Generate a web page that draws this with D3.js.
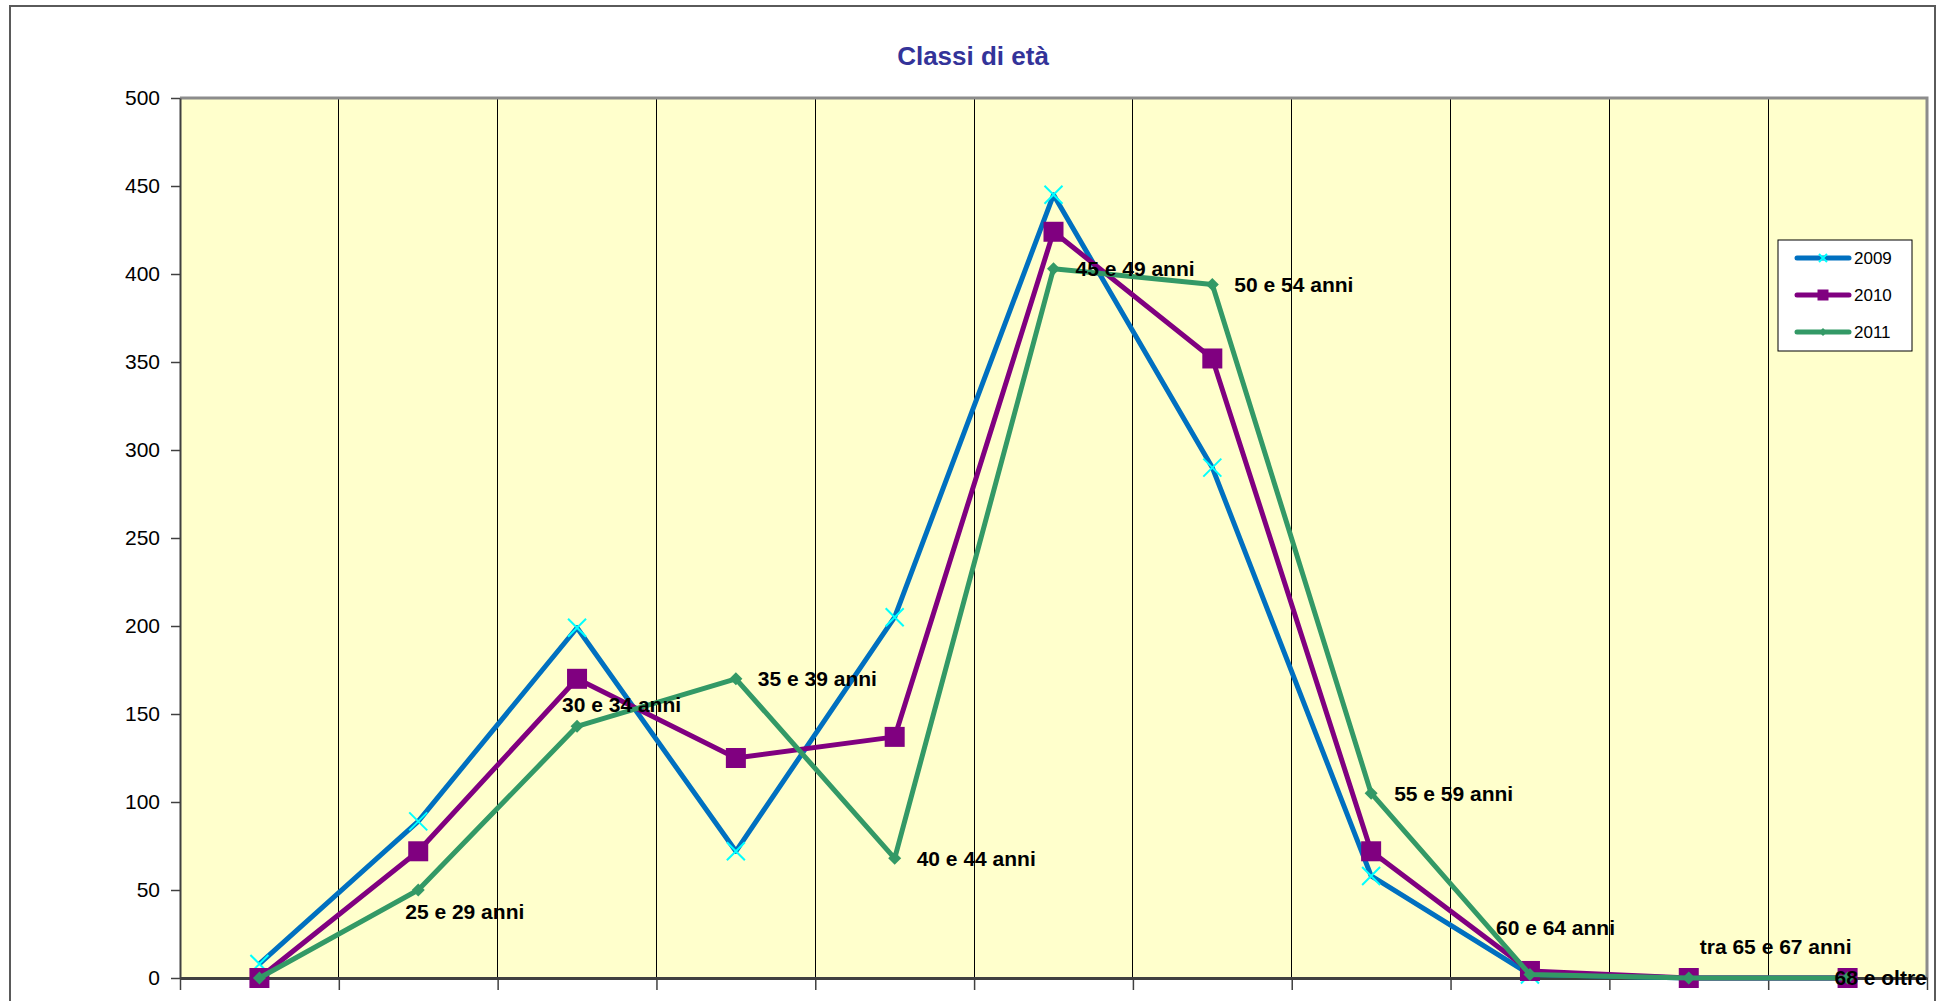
<!DOCTYPE html>
<html>
<head>
<meta charset="utf-8">
<script src="https://cdn.jsdelivr.net/npm/d3@7"></script>
<style>
  html, body { margin: 0; padding: 0; background: #ffffff; }
  svg { display: block; font-family: "Liberation Sans", Arial, sans-serif; }
</style>
</head>
<body>
<svg id="chart" width="1943" height="1001"></svg>
<script>
// ---------- data ----------
const categories = ["", "25 e 29 anni", "30 e 34 anni", "35 e 39 anni", "40 e 44 anni",
  "45 e 49 anni", "50 e 54 anni", "55 e 59 anni", "60 e 64 anni", "tra 65 e 67 anni", "68 e oltre"];
const seriesNames = ["2009", "2010", "2011"];
const values2009 = [8, 89, 199, 72, 205, 445, 290, 58, 2, 0, 0];
const values2010 = [0, 72, 170, 125, 137, 424, 352, 72, 4, 0, 0];
const values2011 = [0, 50, 143, 170, 68, 403, 394, 105, 2, 0, 0];
const yTicks = [0, 50, 100, 150, 200, 250, 300, 350, 400, 450, 500];
const title = "Classi di età";

// ---------- layout / style ----------
const plot = { left: 180, right: 1927, top: 98, bottom: 978 };
const styles = [
  { line: "#0070C0", marker: "cross", mcolor: "#00FFFF", width: 5 },
  { line: "#800080", marker: "square", mcolor: "#800080", width: 5 },
  { line: "#339966", marker: "diamond", mcolor: "#339966", width: 5 }
];
// label offsets (px) relative to the 2011 point of each category
const labelOffsets = [[0,0],[-13,22],[-15,-22],[22,0],[22,0],[22,0],[22,0],[23,0],[-34,-47],[11,-31],[-13,0]];

const svg = d3.select("#chart");

// outer chart border
svg.append("rect").attr("x", 10).attr("y", 6).attr("width", 1925).attr("height", 1100)
  .attr("fill", "#fff").attr("stroke", "#5a5a5a").attr("stroke-width", 2);

const x = d3.scaleBand().domain(d3.range(categories.length)).range([plot.left, plot.right]).padding(0);
const xb = d3.scaleLinear().domain([0, categories.length]).range([plot.left, plot.right]);
const y = d3.scaleLinear().domain([0, 500]).range([plot.bottom, plot.top]);

// plot background
svg.append("rect").attr("x", plot.left).attr("y", plot.top)
  .attr("width", plot.right - plot.left).attr("height", plot.bottom - plot.top)
  .attr("fill", "#FFFFCC");

// vertical grid lines
svg.append("g").selectAll("line").data(d3.range(1, categories.length)).join("line")
  .attr("x1", d => xb(d)).attr("x2", d => xb(d))
  .attr("y1", plot.top).attr("y2", plot.bottom)
  .attr("stroke", "#000").attr("stroke-width", 1).attr("shape-rendering", "crispEdges");

// top & right plot border
svg.append("path")
  .attr("d", `M${plot.left},${plot.top}H${plot.right}V${plot.bottom}`)
  .attr("fill", "none").attr("stroke", "#8c8c8c").attr("stroke-width", 3);

// y axis
const yAxis = d3.axisLeft(y).tickValues(yTicks).tickSizeInner(9).tickSizeOuter(0).tickPadding(11);
const gy = svg.append("g").attr("transform", `translate(${plot.left},0)`).call(yAxis);
gy.select(".domain").attr("stroke", "#404040").attr("stroke-width", 2);
gy.selectAll(".tick line").attr("stroke", "#404040").attr("stroke-width", 1.5);
gy.selectAll(".tick text").attr("font-size", 21).attr("fill", "#000")
  .attr("font-family", "'Liberation Sans', Arial, sans-serif");

// x axis (ticks at category boundaries, no labels)
const xAxis = d3.axisBottom(xb).tickValues(d3.range(0, categories.length + 1)).tickFormat("").tickSizeInner(12).tickSizeOuter(0);
const gx = svg.append("g").attr("transform", `translate(0,${plot.bottom})`).call(xAxis);
gx.select(".domain").attr("stroke", "#404040").attr("stroke-width", 3);
gx.selectAll(".tick line").attr("stroke", "#404040").attr("stroke-width", 1.5);

// series
const allSeries = [values2009, values2010, values2011];
const cx = i => x(i) + x.bandwidth() / 2;
const line = d3.line().x((d, i) => cx(i)).y(d => y(d));

function drawMarker(g, kind, color, px, py, s) {
  if (kind === "cross") {
    const h = s / 2;
    g.append("path").attr("d", `M${px-h},${py-h}L${px+h},${py+h}M${px-h},${py+h}L${px+h},${py-h}`)
      .attr("stroke", color).attr("stroke-width", 2).attr("fill", "none");
  } else if (kind === "square") {
    g.append("rect").attr("x", px - s/2).attr("y", py - s/2).attr("width", s).attr("height", s)
      .attr("fill", color);
  } else {
    const h = s / 2;
    g.append("path").attr("d", `M${px},${py-h}L${px+h},${py}L${px},${py+h}L${px-h},${py}Z`)
      .attr("fill", color);
  }
}
const markerSize = [18, 20, 13];

allSeries.forEach((vals, si) => {
  const st = styles[si];
  const g = svg.append("g");
  g.append("path").datum(vals).attr("d", line)
    .attr("fill", "none").attr("stroke", st.line).attr("stroke-width", st.width)
    .attr("stroke-linejoin", "round");
  vals.forEach((v, i) => drawMarker(g, st.marker, st.mcolor, cx(i), y(v), markerSize[si]));
});

// data labels
svg.append("g").selectAll("text").data(categories).join("text")
  .attr("x", (d, i) => cx(i) + labelOffsets[i][0])
  .attr("y", (d, i) => y(values2011[i]) + labelOffsets[i][1])
  .attr("dy", "0.35em")
  .attr("font-size", 21).attr("font-weight", "bold").attr("fill", "#000")
  .text(d => d);

// title
svg.append("text").attr("x", 973).attr("y", 65).attr("text-anchor", "middle")
  .attr("font-size", 26).attr("font-weight", "bold").attr("fill", "#333399").text(title);

// legend
const lg = svg.append("g");
lg.append("rect").attr("x", 1778).attr("y", 240).attr("width", 134).attr("height", 111)
  .attr("fill", "#fff").attr("stroke", "#000").attr("stroke-width", 1);
const legMarker = [8, 11, 8];
seriesNames.forEach((name, si) => {
  const ly = 258 + si * 37;
  const st = styles[si];
  lg.append("line").attr("x1", 1797).attr("x2", 1849).attr("y1", ly).attr("y2", ly)
    .attr("stroke", st.line).attr("stroke-width", 5).attr("stroke-linecap", "round");
  drawMarker(lg, st.marker, st.mcolor, 1823, ly, legMarker[si]);
  lg.append("text").attr("x", 1854).attr("y", ly).attr("dy", "0.35em")
    .attr("font-size", 17).attr("fill", "#000").text(name);
});
</script>
</body>
</html>
